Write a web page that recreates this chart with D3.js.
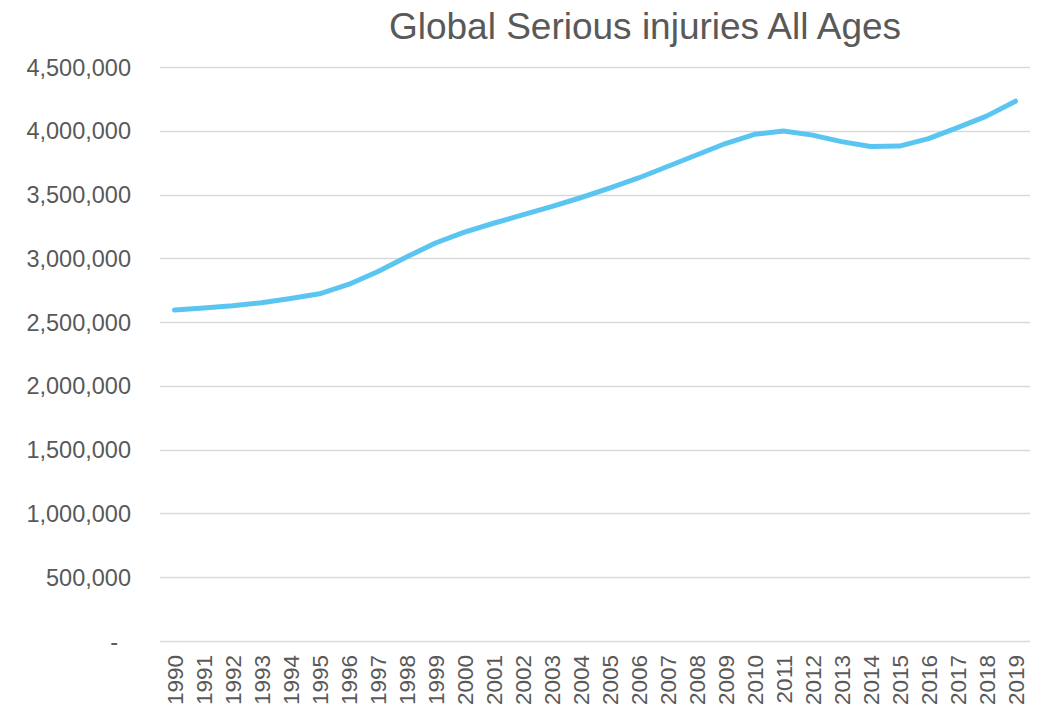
<!DOCTYPE html>
<html>
<head>
<meta charset="utf-8">
<script src="https://cdn.jsdelivr.net/npm/d3@7"></script>
<style>
  body { margin: 0; background: #fff; }
  text { font-family: "Liberation Sans", Arial, sans-serif; fill: #595959; }
</style>
</head>
<body>
<div id="chart"></div>
<script>
var years = ["1990","1991","1992","1993","1994","1995","1996","1997","1998","1999",
             "2000","2001","2002","2003","2004","2005","2006","2007","2008","2009",
             "2010","2011","2012","2013","2014","2015","2016","2017","2018","2019"];

var injuries = [2595000, 2610000, 2628000, 2652000, 2685000, 2722000, 2795000, 2895000, 3010000, 3120000,
                3205000, 3275000, 3340000, 3405000, 3475000, 3550000, 3630000, 3720000, 3810000, 3900000,
                3972000, 3998000, 3966000, 3915000, 3877000, 3880000, 3938000, 4025000, 4115000, 4232000];

var yTicks = [0, 500000, 1000000, 1500000, 2000000, 2500000, 3000000, 3500000, 4000000, 4500000];

var title = "Global Serious injuries All Ages";

var w = 1045,
    h = 710;

var svg = d3.select("#chart")
            .append("svg")
            .attr("width", w)
            .attr("height", h);

var x = d3.scalePoint()
          .domain(years)
          .range([160, 1030])
          .padding(0.5);

var y = d3.scaleLinear()
          .domain([0, 4500000])
          .range([641, 67]);

// gridlines
svg.selectAll("line.grid")
   .data(yTicks)
   .enter()
   .append("line")
   .attr("class", "grid")
   .attr("x1", 160)
   .attr("x2", 1030)
   .attr("y1", function(d) { return Math.round(y(d)) + 0.5; })
   .attr("y2", function(d) { return Math.round(y(d)) + 0.5; })
   .style("stroke", "#d9d9d9")
   .style("stroke-width", 1.3);

// y labels
var fmt = d3.format(",");
svg.selectAll("text.ylab")
   .data(yTicks)
   .enter()
   .append("text")
   .attr("class", "ylab")
   .attr("x", function(d) { return d === 0 ? 118 : 131; })
   .attr("y", function(d) { return y(d) + 8.5; })
   .attr("text-anchor", "end")
   .style("font-size", "23.5px")
   .text(function(d) { return d === 0 ? "-" : fmt(d); });

// x labels, rotated
svg.selectAll("text.xlab")
   .data(years)
   .enter()
   .append("text")
   .attr("class", "xlab")
   .attr("transform", function(d) { return "translate(" + (x(d) + 8) + ",655) rotate(-90)"; })
   .attr("text-anchor", "end")
   .style("font-size", "22.5px")
   .text(function(d) { return d; });

// series line
var line = d3.line()
             .x(function(d, i) { return x(years[i]); })
             .y(function(d) { return y(d); });

svg.append("path")
   .datum(injuries)
   .attr("d", line)
   .style("fill", "none")
   .style("stroke", "#5bc5f2")
   .style("stroke-width", 5)
   .style("stroke-linecap", "round")
   .style("stroke-linejoin", "round");

svg.append("text")
   .attr("x", 645)
   .attr("y", 39)
   .attr("text-anchor", "middle")
   .style("font-size", "37px")
   .text(title);
</script>
</body>
</html>
